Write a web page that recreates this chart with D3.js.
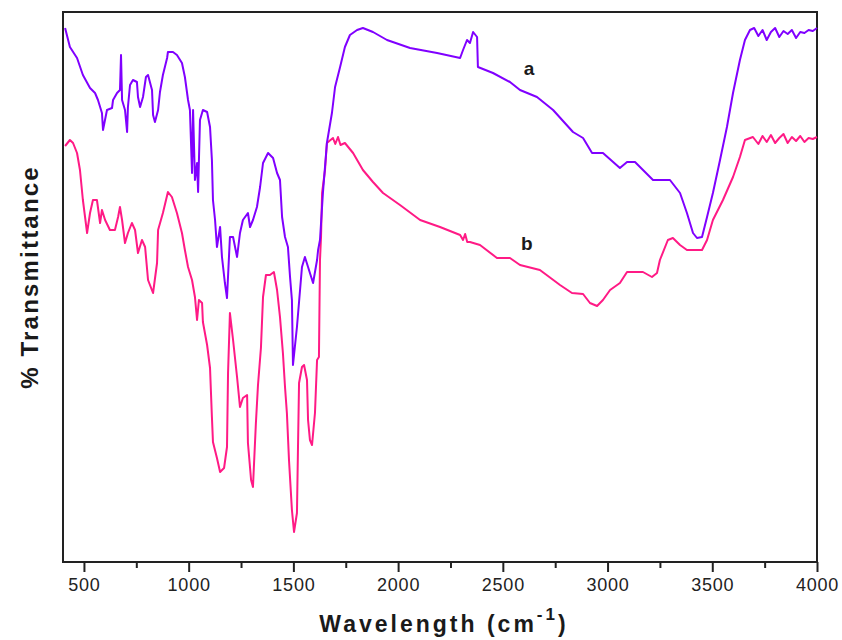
<!DOCTYPE html>
<html><head><meta charset="utf-8">
<script src="https://cdn.jsdelivr.net/npm/d3@7"></script>
<style>body{margin:0;background:#fff;} svg{display:block;}</style>
</head><body>
<svg id="chart" width="842" height="640"></svg>
<script>
// Wavenumber (cm-1) and relative transmittance (arbitrary units)
const waveA = [410,433,467,495,529,553,567,586,591,610,634,639,658,672,677,682,696,706,710,720,734,753,758,768,782,796,806,825,830,839,854,863,877,897,901,925,944,968,982,997,1006,1016,1021,1030,1040,1045,1054,1068,1088,1102,1111,1116,1126,1135,1150,1159,1173,1183,1197,1212,1231,1245,1259,1283,1293,1307,1326,1341,1355,1379,1403,1422,1436,1446,1460,1474,1484,1493,1498,1517,1541,1555,1570,1594,1613,1618,1627,1641,1660,1684,1699,1723,1746,1770,1804,1832,1880,1947,2057,2186,2296,2310,2329,2343,2358,2377,2381,2453,2534,2582,2663,2740,2835,2883,2926,2978,3059,3093,3131,3217,3298,3346,3379,3408,3427,3451,3475,3503,3537,3570,3599,3632,3656,3680,3700,3720,3740,3760,3780,3800,3820,3840,3860,3880,3900,3920,3940,3960,3980,4000];
const transA = [534,515,504,487,474,469,462,449,432,452,454,462,469,472,507,462,452,430,455,477,482,480,465,455,465,485,487,472,447,440,452,470,487,504,510,510,507,499,485,462,452,389,452,382,399,370,442,452,450,435,402,362,342,315,335,305,279,264,325,325,305,329,342,349,335,342,355,375,399,409,404,389,382,345,325,315,285,262,197,235,295,305,295,279,302,312,322,369,419,449,475,495,515,527,532,534,530,522,514,509,504,512,522,519,530,525,495,489,480,472,465,452,430,424,409,409,394,400,400,382,382,369,349,329,324,325,345,369,402,435,469,502,522,532,534,526,532,522,530,534,525,531,528,532,524,530,529,532,531,534];

const waveB = [410,433,448,467,481,495,515,529,543,562,577,586,601,624,648,663,672,682,696,710,729,744,758,777,792,806,830,849,854,877,901,920,944,968,982,997,1016,1030,1040,1049,1064,1068,1088,1102,1111,1116,1135,1150,1169,1183,1188,1197,1212,1231,1245,1259,1279,1283,1298,1307,1321,1331,1345,1355,1369,1388,1407,1422,1436,1450,1460,1469,1479,1493,1503,1517,1522,1527,1541,1551,1565,1570,1579,1589,1603,1613,1622,1627,1632,1637,1651,1660,1689,1700,1713,1725,1746,1785,1832,1880,1928,2009,2105,2200,2296,2310,2320,2330,2343,2391,2472,2534,2582,2677,2773,2830,2883,2916,2950,2978,3012,3059,3093,3169,3212,3236,3250,3288,3312,3346,3379,3451,3475,3503,3551,3599,3632,3656,3694,3720,3740,3760,3780,3800,3820,3840,3860,3880,3900,3920,3940,3960,3980,4000];
const transB = [416,422,419,409,392,362,329,349,362,362,339,352,342,332,332,345,355,342,319,329,339,332,309,322,315,282,269,299,332,349,370,365,349,329,312,295,282,265,242,262,259,240,217,194,145,120,104,90,94,115,189,249,222,185,155,164,167,119,82,75,139,177,214,265,287,287,290,272,245,209,175,149,102,52,30,49,115,179,195,197,182,142,122,117,149,202,205,302,325,369,392,419,424,418,425,417,419,409,392,380,369,357,342,335,327,322,328,320,320,317,304,304,297,292,277,269,268,259,256,262,272,279,290,290,285,289,302,322,324,317,312,312,322,342,362,385,405,422,425,418,426,420,427,419,424,428,419,425,421,426,420,424,423,425];

const xTicks = [500,1000,1500,2000,2500,3000,3500,4000];
const xMinor = [750,1250,1750,2250,2750,3250,3750];
const curveLabels = [{text:"a", wave:2625, value:487},{text:"b", wave:2615, value:312}];

const svg = d3.select("#chart");
const L = 63, R = 817, T = 12, B = 562;
const x = d3.scaleLinear().domain([400,4000]).range([L,R]);
const y = d3.scaleLinear().domain([0,550]).range([B,T]);

// frame
svg.append("rect").attr("x",L).attr("y",T).attr("width",R-L).attr("height",B-T)
  .attr("fill","none").attr("stroke","#222").attr("stroke-width",2);

const line = d3.line().x(d=>x(d[0])).y(d=>y(d[1]));
const dataB = waveB.map((w,i)=>[w,transB[i]]);
const dataA = waveA.map((w,i)=>[w,transA[i]]);
svg.append("path").datum(dataB).attr("d",line).attr("fill","none")
  .attr("stroke","#ff1a85").attr("stroke-width",2).attr("stroke-linejoin","round");
svg.append("path").datum(dataA).attr("d",line).attr("fill","none")
  .attr("stroke","#8000ff").attr("stroke-width",2).attr("stroke-linejoin","round");

// axis
const ax = d3.axisBottom(x).tickValues(xTicks).tickSize(10).tickPadding(6).tickFormat(d3.format("d"));
const g = svg.append("g").attr("transform",`translate(0,${B})`).call(ax);
g.select(".domain").remove();
g.selectAll(".tick line").attr("stroke","#222").attr("stroke-width",2);
g.selectAll(".tick text").attr("font-family","Liberation Sans, Arial, sans-serif")
  .attr("font-size",18).attr("letter-spacing",0.8).attr("fill","#222");
const gm = svg.append("g").attr("transform",`translate(0,${B})`)
  .call(d3.axisBottom(x).tickValues(xMinor).tickSize(6).tickFormat(""));
gm.select(".domain").remove();
gm.selectAll(".tick line").attr("stroke","#222").attr("stroke-width",2);

// axis titles
const xt = svg.append("text").attr("x",(L+R)/2+4).attr("y",632).attr("text-anchor","middle")
  .attr("font-family","Liberation Sans, Arial, sans-serif").attr("font-weight","bold")
  .attr("font-size",23).attr("letter-spacing",3).attr("fill","#1a1a1a");
xt.append("tspan").text("Wavelength (cm");
xt.append("tspan").text("-1").attr("font-size",17).attr("dy",-12);
xt.append("tspan").text(")").attr("dy",12);

svg.append("text").attr("transform","translate(38,277) rotate(-90)").attr("text-anchor","middle")
  .attr("font-family","Liberation Sans, Arial, sans-serif").attr("font-weight","bold")
  .attr("font-size",24).attr("letter-spacing",2.2).attr("fill","#1a1a1a").text("% Transmittance");

svg.selectAll(".clabel").data(curveLabels).enter().append("text")
  .attr("x",d=>x(d.wave)).attr("y",d=>y(d.value)).attr("text-anchor","middle")
  .attr("font-family","Liberation Sans, Arial, sans-serif").attr("font-weight","bold")
  .attr("font-size",19).attr("fill","#1a1a1a").text(d=>d.text);
</script>
</body></html>
